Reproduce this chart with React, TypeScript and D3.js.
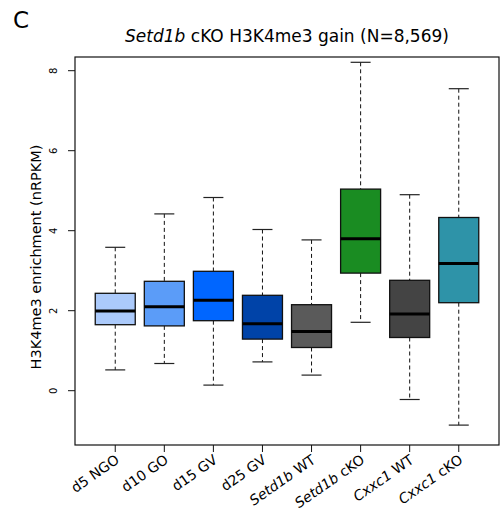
import React from 'react';
import * as d3 from 'd3';

// sample groups and their box statistics (nRPKM)
const groups = ['d5 NGO', 'd10 GO', 'd15 GV', 'd25 GV', 'Setd1b WT', 'Setd1b cKO', 'Cxxc1 WT', 'Cxxc1 cKO'];
const italicPart = ['', '', '', '', 'Setd1b', 'Setd1b', 'Cxxc1', 'Cxxc1'];
const whiskerLow = [0.52, 0.68, 0.14, 0.72, 0.39, 1.71, -0.22, -0.86];
const q1 = [1.65, 1.62, 1.75, 1.29, 1.08, 2.94, 1.33, 2.2];
const median = [1.99, 2.1, 2.26, 1.675, 1.48, 3.8, 1.92, 3.18];
const q3 = [2.435, 2.735, 2.985, 2.385, 2.15, 5.04, 2.76, 4.33];
const whiskerHigh = [3.585, 4.42, 4.83, 4.03, 3.77, 8.21, 4.9, 7.55];
const colors = ['#abcafb', '#5b9cf8', '#0066ff', '#0043a8', '#5a5a5a', '#1a8c22', '#444444', '#2e93a8'];
const yTicks = [0, 2, 4, 6, 8];

export default function App() {
  const width = 502;
  const height = 520;
  const left = 75, right = 499, top = 57, bottom = 445;
  const font = 'Verdana, "DejaVu Sans", sans-serif';

  const x = d3.scaleLinear().domain([0.18, 8.82]).range([left, right]);
  const y = d3.scaleLinear().domain([0, 8]).range([390.7, 70.7]);
  const boxW = 40;
  const capW = 20;

  return (
    <svg width={width} height={height} style={{ position: 'absolute', left: 0, top: 0 }}>
      <rect width={width} height={height} fill="#fff" />
      <text x={13} y={28} fontFamily={font} fontSize={23}>C</text>
      <text x={(left + right) / 2} y={42} textAnchor="middle" fontFamily={font} fontSize={17}>
        <tspan fontStyle="italic">Setd1b</tspan> cKO H3K4me3 gain (N=8,569)
      </text>

      {groups.map((g, i) => {
        const cx = x(i + 1);
        return (
          <g key={g}>
            <line x1={cx} x2={cx} y1={y(whiskerHigh[i])} y2={y(q3[i])} stroke="#111" strokeDasharray="4,3" />
            <line x1={cx} x2={cx} y1={y(q1[i])} y2={y(whiskerLow[i])} stroke="#111" strokeDasharray="4,3" />
            <line x1={cx - capW / 2} x2={cx + capW / 2} y1={y(whiskerHigh[i])} y2={y(whiskerHigh[i])} stroke="#222" strokeWidth={1.2} />
            <line x1={cx - capW / 2} x2={cx + capW / 2} y1={y(whiskerLow[i])} y2={y(whiskerLow[i])} stroke="#222" strokeWidth={1.2} />
            <rect x={cx - boxW / 2} y={y(q3[i])} width={boxW} height={y(q1[i]) - y(q3[i])}
              fill={colors[i]} stroke="#111" strokeWidth={1.3} />
            <line x1={cx - boxW / 2} x2={cx + boxW / 2} y1={y(median[i])} y2={y(median[i])} stroke="#000" strokeWidth={3} />
          </g>
        );
      })}

      <rect x={left} y={top} width={right - left} height={bottom - top} fill="none" stroke="#111" strokeWidth={1.2} />

      {yTicks.map(t => (
        <g key={t}>
          <line x1={left - 7} x2={left} y1={y(t)} y2={y(t)} stroke="#111" />
          <text transform={`translate(${left - 18},${y(t)}) rotate(-90)`} textAnchor="middle"
            fontFamily={font} fontSize={10}>{t}</text>
        </g>
      ))}
      <text transform={`translate(41,${(top + bottom) / 2 + 6}) rotate(-90)`} textAnchor="middle"
        fontFamily={font} fontSize={14.5}>H3K4me3 enrichment (nRPKM)</text>

      {groups.map((g, i) => {
        const cx = x(i + 1);
        const it = italicPart[i];
        const rest = it ? g.slice(it.length) : g;
        return (
          <g key={'l' + g}>
            <line x1={cx} x2={cx} y1={bottom} y2={bottom + 7} stroke="#111" />
            <text transform={`translate(${cx + 5},${bottom + 17}) rotate(-35)`} textAnchor="end"
              fontFamily={font} fontSize={14}>
              {it && <tspan fontStyle="italic">{it}</tspan>}{rest}
            </text>
          </g>
        );
      })}
    </svg>
  );
}
